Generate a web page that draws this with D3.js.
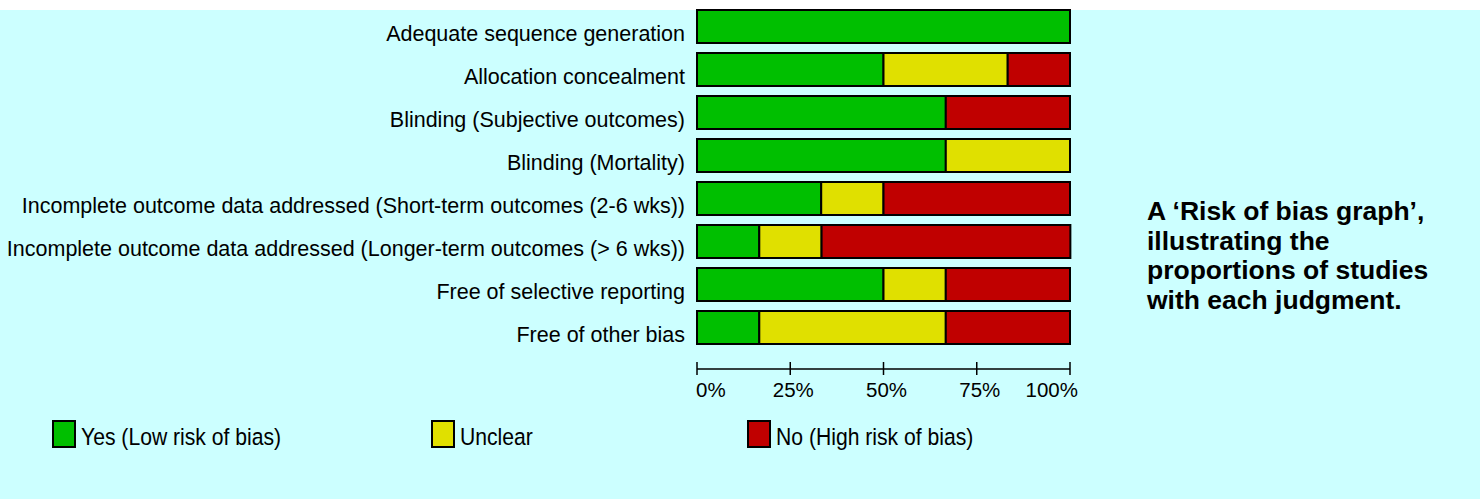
<!DOCTYPE html>
<html lang="en">
<head>
    <meta charset="UTF-8">
    <title>Risk of bias graph</title>
    <style>
        body {
            margin: 0;
            background: #ffffff;
            font-family: "Liberation Sans", Arial, sans-serif;
        }
        svg { display: block; }
        .row-label { font-size: 21.5px; fill: #000; }
        .tick-label { font-size: 20.5px; fill: #000; }
        .legend-label { font-size: 23.5px; fill: #000; }
        .side-title { font-size: 26.5px; font-weight: bold; fill: #000; }
    </style>
</head>
<body>
    <div id="chart"></div>

    <script src="https://d3js.org/d3.v7.min.js"></script>
    <script>
        // Data (percent of studies per judgment)
        const domains = [
            'Adequate sequence generation',
            'Allocation concealment',
            'Blinding (Subjective outcomes)',
            'Blinding (Mortality)',
            'Incomplete outcome data addressed (Short-term outcomes (2-6 wks))',
            'Incomplete outcome data addressed (Longer-term outcomes (> 6 wks))',
            'Free of selective reporting',
            'Free of other bias'
        ];
        const yesLow = [100, 50, 66.7, 66.7, 33.3, 16.7, 50, 16.7];
        const unclear = [0, 33.3, 0, 33.3, 16.7, 16.7, 16.7, 50];
        const noHigh = [0, 16.7, 33.3, 0, 50, 66.7, 33.3, 33.3];

        const judgments = ['Yes (Low risk of bias)', 'Unclear', 'No (High risk of bias)'];
        const colors = ['#00bf00', '#e0e000', '#c00000'];
        const axisTicks = [0, 25, 50, 75, 100];
        const sideTitle = ['A \u2018Risk of bias graph\u2019,', 'illustrating the', 'proportions of studies', 'with each judgment.'];

        const W = 1480, H = 499;

        const svg = d3.select('#chart')
            .append('svg')
            .attr('width', W)
            .attr('height', H);

        // cyan panel
        svg.append('rect')
            .attr('x', 0).attr('y', 10)
            .attr('width', W).attr('height', H - 10)
            .attr('fill', '#ccffff');

        const x = d3.scaleLinear().domain([0, 100]).range([697, 1070]);
        const y = d3.scaleBand()
            .domain(domains)
            .range([5, 349])
            .paddingInner(0.2326)
            .paddingOuter(0.1163);

        const rows = domains.map((d, i) => ({ name: d, vals: [yesLow[i], unclear[i], noHigh[i]] }));

        // stacked segments
        rows.forEach(r => {
            let acc = 0;
            const segs = r.vals.map((v, k) => {
                const s = { x0: acc, x1: acc + v, k: k };
                acc += v;
                return s;
            }).filter(s => s.x1 - s.x0 > 0);

            svg.append('g')
                .selectAll('rect')
                .data(segs)
                .enter()
                .append('rect')
                .attr('x', s => x(s.x0))
                .attr('y', y(r.name))
                .attr('width', s => x(s.x1) - x(s.x0))
                .attr('height', y.bandwidth())
                .attr('fill', s => colors[s.k])
                .attr('stroke', '#000')
                .attr('stroke-width', 2);
        });

        // row labels (sit near the bottom of each bar)
        svg.append('g')
            .selectAll('text')
            .data(domains)
            .enter()
            .append('text')
            .attr('class', 'row-label')
            .attr('x', 685)
            .attr('y', d => y(d) + y.bandwidth() - 1.5)
            .attr('text-anchor', 'end')
            .text(d => d);

        // axis
        const axisY = 369;
        const ax = svg.append('g');
        ax.append('line')
            .attr('x1', x(0)).attr('x2', x(100))
            .attr('y1', axisY).attr('y2', axisY)
            .attr('stroke', '#000').attr('stroke-width', 1.5);
        ax.selectAll('.tick')
            .data(axisTicks)
            .enter()
            .append('line')
            .attr('x1', d => x(d)).attr('x2', d => x(d))
            .attr('y1', axisY - 7).attr('y2', axisY + 6)
            .attr('stroke', '#000').attr('stroke-width', 1.5);
        ax.selectAll('text')
            .data(axisTicks)
            .enter()
            .append('text')
            .attr('class', 'tick-label')
            .attr('x', d => d === 0 ? x(d) - 1 : d === 100 ? x(d) + 8 : x(d) + 3)
            .attr('y', 397)
            .attr('text-anchor', d => d === 0 ? 'start' : d === 100 ? 'end' : 'middle')
            .text(d => d + '%');

        // legend
        const legendX = [53, 432, 748];
        const lg = svg.append('g')
            .selectAll('g')
            .data(judgments)
            .enter()
            .append('g')
            .attr('transform', (d, i) => `translate(${legendX[i]},421)`);
        lg.append('rect')
            .attr('width', 22).attr('height', 26)
            .attr('fill', (d, i) => colors[i])
            .attr('stroke', '#000').attr('stroke-width', 2);
        lg.append('text')
            .attr('class', 'legend-label')
            .attr('transform', 'translate(28,24) scale(0.9,1)')
            .text(d => d);

        // side title
        svg.append('text')
            .attr('class', 'side-title')
            .selectAll('tspan')
            .data(sideTitle)
            .enter()
            .append('tspan')
            .attr('x', 1147)
            .attr('y', (d, i) => 220 + i * 29.5)
            .text(d => d);
    </script>
</body>
</html>
